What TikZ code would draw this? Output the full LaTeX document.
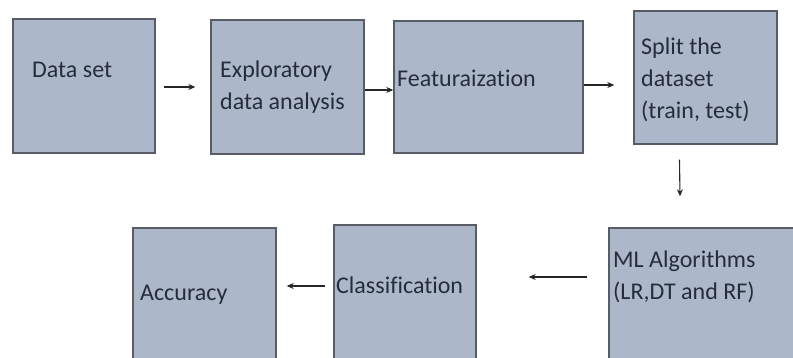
\documentclass[tikz,border=0pt]{standalone}
\usepackage{fontspec}
\setmainfont{Carlito}[Ligatures={NoCommon}]
\usetikzlibrary{arrows.meta}
\definecolor{boxfill}{RGB}{172,184,202}
\definecolor{boxline}{RGB}{88,92,102}
\definecolor{txt}{RGB}{38,44,58}
\begin{document}
\begin{tikzpicture}[x=1pt,y=-1pt,
  box/.style={draw=boxline,line width=1.4pt,fill=boxfill,rectangle,inner sep=0pt},
  lbl/.style={anchor=base west,inner sep=0pt,align=left,text=txt,
    font=\fontsize{24}{32}\selectfont},
  arr/.style={draw=black!85,line width=1.1pt,-{Stealth[length=7pt,width=6pt]}}]
\useasboundingbox (0,0) rectangle (793,358);
\fill[white] (0,0) rectangle (793,358);
\begin{scope}
\clip (0,0) rectangle (793,358);
\node[box,minimum width=142pt,minimum height=134pt] (ds) at (84,86) {};
\node[box,minimum width=153pt,minimum height=134pt] (eda) at (287.5,87) {};
\node[box,minimum width=189pt,minimum height=132pt] (feat) at (488.5,87) {};
\node[box,minimum width=143pt,minimum height=133pt] (split) at (705.5,77.5) {};
\node[box,minimum width=221pt,minimum height=172pt] (ml) at (719.5,314) {};
\node[box,minimum width=142pt,minimum height=175pt] (cls) at (405,312.5) {};
\node[box,minimum width=143pt,minimum height=172pt] (acc) at (204.5,314) {};
\end{scope}
\node[lbl] (tds) at (32,78) {Data set};
\node[lbl] (teda) at (220,110) {Exploratory\\data analysis};
\node[lbl] (tfeat) at (397,87) {Featuraization};
\node[lbl] (tsplit) at (641,119) {Split the\\dataset\\(train, test)};
\node[lbl] (tml) at (613,299) {ML Algorithms\\(LR,DT and RF)};
\node[lbl] (tcls) at (336,294) {Classification};
\node[lbl] (tacc) at (140,301) {Accuracy};
\draw[arr] ([xshift=8pt,yshift=-1pt]ds.east) -- ([xshift=-15pt]eda.west);
\draw[arr] ([yshift=-3pt]eda.east) -- ([yshift=-3pt]feat.west);
\draw[arr] ([yshift=2pt]feat.east) -- ([xshift=-19pt,yshift=-7.5pt]split.west);
\draw[arr] ([xshift=-26pt,yshift=-15pt]split.south) -- ([xshift=-39.5pt,yshift=31pt]ml.north);
\draw[arr] ([xshift=-21pt,yshift=37pt]ml.west) -- ([xshift=52pt,yshift=35.5pt]cls.east);
\draw[arr] ([xshift=-8pt,yshift=26.5pt]cls.west) -- ([xshift=10pt,yshift=28pt]acc.east);
\end{tikzpicture}
\end{document}
